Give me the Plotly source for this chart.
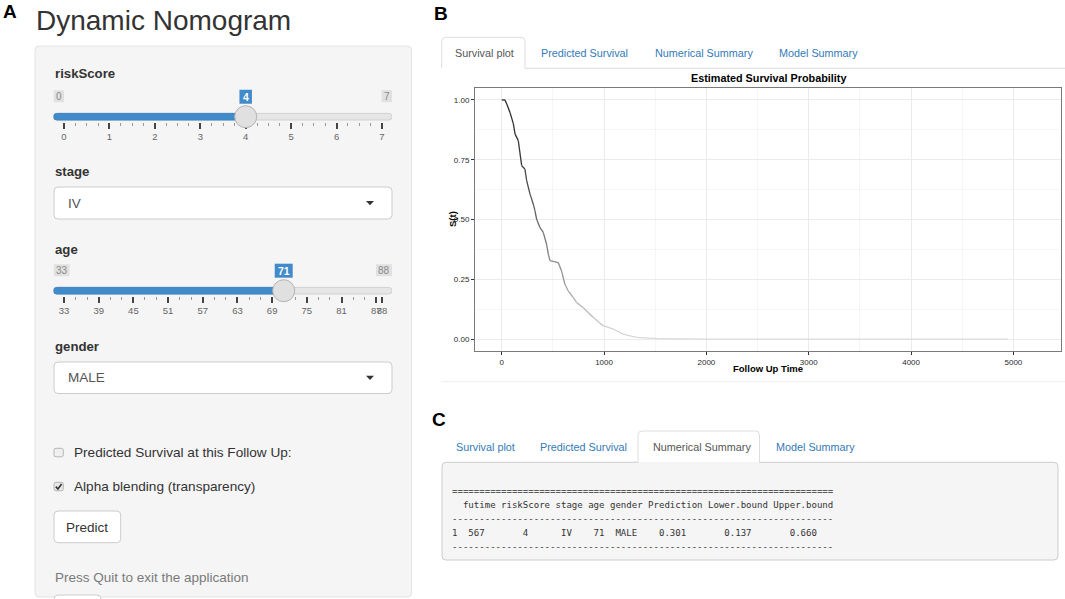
import plotly.graph_objects as go

# ---- values ----------------------------------------------------------------
surv_time = [0, 32, 49, 81, 114, 130, 162, 195, 227, 244, 276, 308, 325, 341,
             373, 406, 438, 455, 471, 552, 584, 617, 649, 698, 731, 795, 893,
             990, 1088, 1185, 1315, 1542, 2000, 4950]
surv_prob = [1.0, 1.0, 0.983, 0.948, 0.900, 0.858, 0.830, 0.725, 0.711, 0.662,
             0.607, 0.565, 0.537, 0.502, 0.467, 0.446, 0.397, 0.356, 0.328,
             0.320, 0.286, 0.230, 0.202, 0.174, 0.153, 0.132, 0.091, 0.056,
             0.042, 0.021, 0.007, 0.002, 0.0, 0.0]

x_ticks = [0, 1000, 2000, 3000, 4000, 5000]
y_ticks = [0.0, 0.25, 0.50, 0.75, 1.00]

risk_range = [0, 7]
risk_value = 4
risk_ticks = [0, 1, 2, 3, 4, 5, 6, 7]
age_range = [33, 88]
age_value = 71
age_ticks = [33, 39, 45, 51, 57, 63, 69, 75, 81, 87, 88]
stage_value = "IV"
gender_value = "MALE"

tab_names = ["Survival plot", "Predicted Survival", "Numerical Summary", "Model Summary"]
summary_cols = ["futime", "riskScore", "stage", "age", "gender",
                "Prediction", "Lower.bound", "Upper.bound"]
summary_row = ["567", "4", "IV", "71", "MALE", "0.301", "0.137", "0.660"]

# ---- page geometry (pixels of the 1065x599 screenshot) ---------------------
W, H = 1065, 599
SANS = "Liberation Sans, Arial, sans-serif"
MONO = "DejaVu Sans Mono, monospace"
BLUE = "#428bca"
LINK = "#337ab7"

shapes, notes, traces, axes = [], [], [], {}


def X(px):
    return px / W


def Y(py):
    return 1 - py / H


def text(x, y, s, size=13.5, color="#333", bold=False, anchor="left",
         family=SANS, xref="paper", xshift=0, angle=0):
    notes.append(dict(
        x=X(x) if xref == "paper" else x, y=Y(y), xref=xref, yref="paper",
        text=f"<b>{s}</b>" if bold else s, showarrow=False, xanchor=anchor,
        yanchor="middle", xshift=xshift, textangle=angle,
        font=dict(family=family, size=size, color=color)))


def rounded(x0, x1, y0, y1, rx, ry, closed=True):
    # y0 is the top edge; an open path leaves the bottom edge undrawn (tabs)
    a = rx if x1 > x0 else -rx
    b = ry if y1 > y0 else -ry
    if not closed:
        return (f"M{x0},{y1} L{x0},{y0 + b} Q{x0},{y0} {x0 + a},{y0} "
                f"L{x1 - a},{y0} Q{x1},{y0} {x1},{y0 + b} L{x1},{y1}")
    return (f"M{x0 + a},{y0} L{x1 - a},{y0} Q{x1},{y0} {x1},{y0 + b} "
            f"L{x1},{y1 - b} Q{x1},{y1} {x1 - a},{y1} L{x0 + a},{y1} "
            f"Q{x0},{y1} {x0},{y1 - b} L{x0},{y0 + b} Q{x0},{y0} {x0 + a},{y0} Z")


def box(x0, y0, x1, y1, fill, line, r=4, width=1, closed=True, layer="above"):
    shapes.append(dict(type="path", xref="paper", yref="paper", layer=layer,
                       path=rounded(X(x0), X(x1), Y(y0), Y(y1), r / W, r / H, closed),
                       fillcolor=fill, line=dict(color=line, width=width)))


def hline(x0, x1, y, color, width=1):
    shapes.append(dict(type="line", xref="paper", yref="paper", x0=X(x0), x1=X(x1),
                       y0=Y(y), y1=Y(y), line=dict(color=color, width=width)))


def minor_between(ticks, n_small):
    # ion.rangeSlider small grid marks; the clipped last interval gets none
    out = []
    step = ticks[1] - ticks[0]
    for a, b in zip(ticks[:-1], ticks[1:]):
        if b - a < step:
            continue
        out += [a + (b - a) * k / (n_small + 1) for k in range(1, n_small + 1)]
    return out


TRACK_L, TRACK_R = 53.5, 392
GRID_L, GRID_R = 64, 382


def slider(n, lo, hi, value, track_y, ticks, n_small):
    xa, ya = f"x{n}", f"y{n}"
    unit = (hi - lo) / (GRID_R - GRID_L)
    r0 = lo - (GRID_L - TRACK_L) * unit
    r1 = hi + (TRACK_R - GRID_R) * unit
    axes[f"xaxis{n}"] = dict(
        domain=[X(TRACK_L), X(TRACK_R)], range=[r0, r1], anchor=ya,
        tickmode="array", tickvals=ticks, ticks="outside", ticklen=6,
        tickwidth=1.5, tickcolor="#444", tickangle=0, showgrid=False,
        zeroline=False, showline=False, fixedrange=True,
        tickfont=dict(family=SANS, size=9.5, color="#666"),
        minor=dict(tickmode="array", tickvals=minor_between(ticks, n_small),
                   ticks="outside", ticklen=3, tickwidth=1, tickcolor="#999",
                   showgrid=False))
    axes[f"yaxis{n}"] = dict(domain=[Y(track_y + 4.8), Y(track_y - 5)],
                             range=[0, 1], visible=False, fixedrange=True)
    traces.append(go.Scatter(x=[value], y=[0.5], xaxis=xa, yaxis=ya, mode="markers",
                             marker=dict(opacity=0), hoverinfo="skip", showlegend=False))

    yt, yb = Y(track_y - 3.3), Y(track_y + 3.3)
    shapes.append(dict(type="path", xref=xa, yref="paper",
                       path=rounded(r0, r1, yt, yb, 3.3 * unit, 3.3 / H),
                       fillcolor="#e6e6e6", line=dict(color="#d0d0d0", width=1)))
    shapes.append(dict(type="path", xref=xa, yref="paper",
                       path=rounded(r0, value, yt, yb, 3.3 * unit, 3.3 / H),
                       fillcolor=BLUE, line=dict(color="#3c84c4", width=1)))
    shapes.append(dict(type="circle", xref=xa, yref="paper", xsizemode="pixel",
                       xanchor=value, x0=-11, x1=11, ysizemode="pixel",
                       yanchor=Y(track_y), y0=-11, y1=11, fillcolor="#e0e0e0",
                       line=dict(color="#b3b3b3", width=1)))

    for anchor, s, side in [(r0, str(lo), 1), (r1, str(hi), -1)]:
        w = 5 + 5.5 * len(s)
        shapes.append(dict(type="rect", xref=xa, yref="paper", xsizemode="pixel",
                           xanchor=anchor, x0=0, x1=side * w,
                           y0=Y(track_y - 26.5), y1=Y(track_y - 14.5),
                           fillcolor="#e1e1e1", line=dict(width=0)))
        text(anchor, track_y - 20.5, s, size=10, color="#8a8a8a", anchor="center",
             xref=xa, xshift=side * w / 2)
    w = 7 + 5.5 * len(str(value))
    shapes.append(dict(type="rect", xref=xa, yref="paper", xsizemode="pixel",
                       xanchor=value, x0=-w / 2, x1=w / 2,
                       y0=Y(track_y - 27), y1=Y(track_y - 13),
                       fillcolor=BLUE, line=dict(width=0)))
    text(value, track_y - 20, str(value), size=10.5, color="white", bold=True,
         anchor="center", xref=xa)


def select(y0, y1, value):
    box(54, y0, 392, y1, "white", "#cccccc", r=4)
    text(66, (y0 + y1) / 2, value, size=13.5, color="#555")
    ym = (y0 + y1) / 2
    shapes.append(dict(type="path", xref="paper", yref="paper",
                       path=f"M{X(366)},{Y(ym - 2)} L{X(374)},{Y(ym - 2)} L{X(370)},{Y(ym + 2.2)} Z",
                       fillcolor="#333", line=dict(width=0)))


# ---- panel A: the input well ----------------------------------------------
box(35, 46, 411.5, 597, "#f5f5f5", "#e3e3e3", r=4, layer="below")
text(9.5, 11, "A", size=19, color="black", bold=True, anchor="center")
text(34, 21, "Dynamic Nomogram", size=28, color="#333")

text(53, 74, "riskScore", size=13.2, bold=True)
slider(2, risk_range[0], risk_range[1], risk_value, 116.7, risk_ticks, 3)

text(53, 172, "stage", size=13.2, bold=True)
select(187, 219, stage_value)

text(53, 249, "age", size=13.2, bold=True)
slider(3, age_range[0], age_range[1], age_value, 290.7, age_ticks, 2)

text(53, 346, "gender", size=13.2, bold=True)
select(362, 393.5, gender_value)

box(54, 448.3, 63.3, 456.8, "#efefef", "#b5b5b5", r=2)
text(72, 452.5, "Predicted Survival at this Follow Up:", size=13.6)
box(54, 482.3, 63.3, 490.8, "#e8e8e8", "#b5b5b5", r=2)
shapes.append(dict(type="path", xref="paper", yref="paper",
                   path=f"M{X(55.8)},{Y(486.6)} L{X(57.9)},{Y(489)} L{X(61.6)},{Y(484)}",
                   line=dict(color="#333", width=1.6)))
text(72, 486.5, "Alpha blending (transparency)", size=13.6)

box(54, 511, 120.7, 542.7, "white", "#cccccc", r=4)
text(87.4, 527, "Predict", size=13.5, anchor="center")
text(53, 577.5, "Press Quit to exit the application", size=13.5, color="#7a7a7a")
box(54, 595, 101, 612, "white", "#cccccc", r=4)

# ---- panel B: survival plot tab -------------------------------------------
text(441, 13, "B", size=19, color="black", bold=True, anchor="center")
box(441.7, 37.3, 525, 68.3, "white", "#dddddd", r=4, closed=False)
hline(525, 1065, 68.3, "#dddddd")
for name, x in zip(tab_names, [453, 539, 653, 777]):
    text(x, 52.7, name, size=10.8, color="#555" if name == tab_names[0] else LINK)

text(768, 78.3, "Estimated Survival Probability", size=10.8, color="black", bold=True,
     anchor="center")
text(768, 368.5, "Follow Up Time", size=9.5, color="black", bold=True, anchor="center")
text(452.5, 219.5, "S(t)", size=9.5, color="black", bold=True, anchor="center", angle=-90)
hline(441, 1065, 381.7, "#eeeeee")


def grey(s):
    # alpha blending: the curve fades as survival drops
    v = int(round(45 + 175 * (1 - s) ** 1.5))
    return f"rgb({v},{v},{v})"


for i in range(len(surv_time) - 1):
    traces.append(go.Scatter(
        x=surv_time[i:i + 2], y=surv_prob[i:i + 2], mode="lines", xaxis="x", yaxis="y",
        line=dict(color=grey(surv_prob[i]), width=1.3),
        hoverinfo="skip", showlegend=False))

mid = lambda v: [(a + b) / 2 for a, b in zip(v[:-1], v[1:])]
axis_font = dict(family=SANS, size=8, color="#2b2b2b")
axes["xaxis"] = dict(
    domain=[X(475), X(1061)], range=[-261, 5465], anchor="y",
    tickmode="array", tickvals=x_ticks, ticks="outside", ticklen=3, tickcolor="#333",
    tickfont=axis_font, showgrid=True, gridcolor="#ebebeb", zeroline=False,
    showline=True, mirror=True, linecolor="#7a7a7a", linewidth=1, fixedrange=True,
    minor=dict(tickmode="array", tickvals=mid(x_ticks), showgrid=True,
               gridcolor="#f5f5f5", ticks=""))
axes["yaxis"] = dict(
    domain=[Y(351), Y(88)], range=[-0.05, 1.05], anchor="x",
    tickmode="array", tickvals=y_ticks, tickformat=".2f", ticks="outside", ticklen=3,
    tickcolor="#333", tickfont=axis_font, showgrid=True, gridcolor="#ebebeb",
    zeroline=False, showline=True, mirror=True, linecolor="#7a7a7a", linewidth=1,
    fixedrange=True,
    minor=dict(tickmode="array", tickvals=mid(y_ticks), showgrid=True,
               gridcolor="#f5f5f5", ticks=""))

# ---- panel C: numerical summary tab ---------------------------------------
text(439, 419, "C", size=19, color="black", bold=True, anchor="center")
box(442, 462.3, 1058, 560, "#f5f5f5", "#cccccc", r=4)
box(638, 431, 759.5, 462.8, "white", "#dddddd", r=4, closed=False)
for name, x in zip(tab_names, [454, 538, 651, 774]):
    text(x, 446.7, name, size=10.8, color="#555" if name == tab_names[2] else LINK)


def place(items, cols, width=70, lead=""):
    buf = list(lead.ljust(width))
    for s, c in zip(items, cols):
        buf[c:c + len(s)] = s
    return "".join(buf).rstrip().replace(" ", "\u00a0")


lines = [
    "=" * 70,
    place(summary_cols, [2, 9, 19, 25, 29, 36, 47, 59]),
    "-" * 70,
    place(summary_row, [3, 13, 20, 26, 30, 38, 50, 62], lead="1"),
    "-" * 70,
]
for k, s in enumerate(lines):
    text(450, 490.7 + 14 * k, s, size=9.05, color="#333", family=MONO)

fig = go.Figure(traces)
fig.update_layout(
    width=W, height=H, margin=dict(l=0, r=0, t=0, b=0),
    paper_bgcolor="white", plot_bgcolor="white", showlegend=False,
    shapes=shapes, annotations=notes, **axes)
fig.write_html("out.html", config={"displayModeBar": False},
               post_script="document.body.style.margin='0px';"
                           "document.body.style.overflow='hidden';")
